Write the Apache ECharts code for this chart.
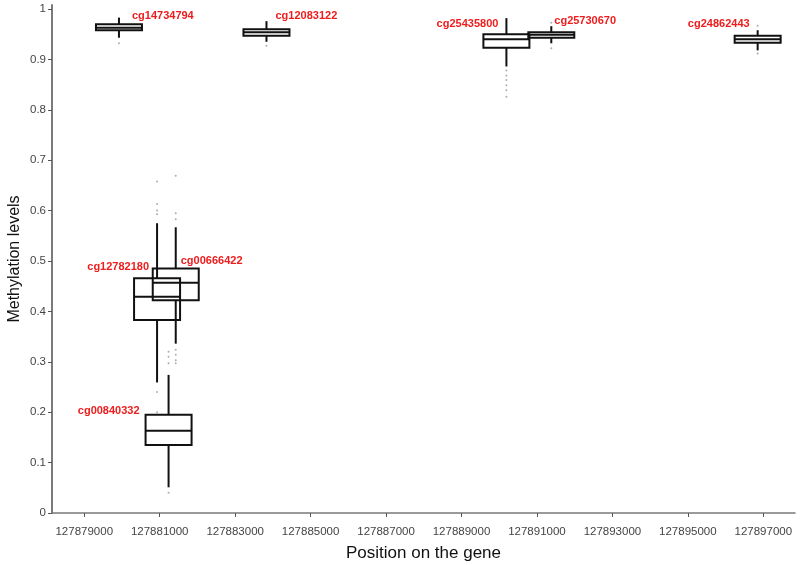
<!DOCTYPE html>
<html>
<head>
<meta charset="utf-8">
<script src="https://cdn.jsdelivr.net/npm/echarts@6/dist/echarts.min.js"></script>
<style>html,body{margin:0;padding:0;background:#fff;}#chart{width:800px;height:565px;}</style>
</head>
<body>
<div id="chart"></div>
<script>
// ---- data ----
const probes = ['cg14734794','cg12083122','cg25435800','cg25730670','cg24862443','cg12782180','cg00666422','cg00840332'];
const positions = [127879920, 127883830, 127890190, 127891380, 127896850, 127880930, 127881425, 127881235];
const whiskerLow  = [0.943, 0.935, 0.886, 0.932, 0.918, 0.259, 0.336, 0.051];
const q1          = [0.958, 0.947, 0.923, 0.943, 0.933, 0.383, 0.422, 0.135];
const median      = [0.963, 0.954, 0.940, 0.949, 0.940, 0.429, 0.457, 0.163];
const q3          = [0.970, 0.960, 0.950, 0.954, 0.947, 0.466, 0.485, 0.195];
const whiskerHigh = [0.983, 0.976, 0.982, 0.966, 0.958, 0.575, 0.567, 0.274];
const outliers = [
  [0.932],
  [0.927],
  [0.878, 0.868, 0.859, 0.849, 0.839, 0.826],
  [0.973, 0.922],
  [0.967, 0.912],
  [0.658, 0.613, 0.600, 0.593, 0.240, 0.200],
  [0.669, 0.595, 0.583, 0.324, 0.314, 0.303, 0.297],
  [0.320, 0.310, 0.297, 0.040]
];
const xTicks = [127879000,127881000,127883000,127885000,127887000,127889000,127891000,127893000,127895000,127897000];
const yTicks = [0,0.1,0.2,0.3,0.4,0.5,0.6,0.7,0.8,0.9,1];

// ---- layout / style (not data) ----
const BOX_W = 46;
const labelPlace = { // pixel offset from box top-centre, text alignment
  cg14734794: [13, -8, 'left'],
  cg12083122: [9, -13, 'left'],
  cg25435800: [-8, -10, 'right'],
  cg25730670: [3, -11, 'left'],
  cg24862443: [-8, -12, 'right'],
  cg12782180: [-8, -11, 'right'],
  cg00666422: [5, -8, 'left'],
  cg00840332: [-29, -4, 'right']
};

const boxData = probes.map((p, i) => [positions[i], whiskerLow[i], q1[i], median[i], q3[i], whiskerHigh[i], i]);
const outlierData = [];
outliers.forEach((arr, i) => arr.forEach(v => outlierData.push([positions[i], v])));

const chart = echarts.init(document.getElementById('chart'), null, {renderer: 'canvas'});
const axisFont = 'Liberation Sans, Arial, sans-serif';

chart.setOption({
  animation: false,
  backgroundColor: '#fff',
  grid: {left: 52, right: 5, top: 5, bottom: 52, containLabel: false, outerBoundsMode: 'none'},
  xAxis: {
    type: 'value',
    min: 127878145,
    max: 127897840,
    name: 'Position on the gene',
    nameLocation: 'middle',
    nameGap: 32,
    nameTextStyle: {fontFamily: axisFont, fontSize: 17, color: '#111'},
    axisLine: {show: true, onZero: false, lineStyle: {color: '#7a7a7a', width: 1.5}},
    axisTick: {show: true, length: 4, lineStyle: {color: '#555'}, customValues: xTicks},
    axisLabel: {customValues: xTicks, fontFamily: axisFont, fontSize: 11.5, color: '#444', margin: 13,
      formatter: v => String(v)},
    splitLine: {show: false}
  },
  yAxis: {
    type: 'value',
    min: 0,
    max: 1.008,
    name: 'Methylation levels',
    nameLocation: 'middle',
    nameGap: 29,
    nameMoveOverlap: false,
    nameRotate: 90,
    nameTextStyle: {fontFamily: axisFont, fontSize: 16, color: '#111'},
    axisLine: {show: true, lineStyle: {color: '#7a7a7a', width: 2}},
    axisTick: {show: true, length: 4, lineStyle: {color: '#555'}, customValues: yTicks},
    axisLabel: {customValues: yTicks, fontFamily: axisFont, fontSize: 11.5, color: '#444', margin: 6,
      formatter: v => String(Math.round(v * 10) / 10)},
    splitLine: {show: false}
  },
  series: [
    {
      type: 'scatter',
      data: outlierData,
      symbol: 'circle',
      symbolSize: 2,
      itemStyle: {color: '#999'},
      z: 1
    },
    {
      type: 'custom',
      data: boxData,
      encode: {x: 0, y: [1, 2, 3, 4, 5]},
      z: 2,
      renderItem: function (params, api) {
        const x = api.value(0);
        const lo = api.coord([x, api.value(1)]);
        const b1 = api.coord([x, api.value(2)]);
        const md = api.coord([x, api.value(3)]);
        const b3 = api.coord([x, api.value(4)]);
        const hi = api.coord([x, api.value(5)]);
        const idx = api.value(6);
        const name = probes[idx];
        const lp = labelPlace[name];
        const hw = BOX_W / 2;
        const cx = b3[0];
        const lineStyle = {stroke: '#111', lineWidth: 2, fill: null};
        return {
          type: 'group',
          children: [
            {type: 'line', shape: {x1: cx, y1: hi[1], x2: cx, y2: b3[1]}, style: lineStyle},
            {type: 'line', shape: {x1: cx, y1: b1[1], x2: cx, y2: lo[1]}, style: lineStyle},
            {type: 'rect', shape: {x: cx - hw, y: b3[1], width: BOX_W, height: b1[1] - b3[1]},
              style: {stroke: '#111', lineWidth: 2, fill: 'rgba(0,0,0,0)'}},
            {type: 'line', shape: {x1: cx - hw, y1: md[1], x2: cx + hw, y2: md[1]}, style: lineStyle},
            {type: 'text', x: cx + lp[0], y: b3[1] + lp[1],
              style: {text: name, fill: '#ee1c1c', fontFamily: 'Liberation Sans, Arial, sans-serif',
                fontWeight: 'bold', fontSize: 11, align: lp[2], verticalAlign: 'middle'}}
          ]
        };
      }
    }
  ]
});
</script>
</body>
</html>
